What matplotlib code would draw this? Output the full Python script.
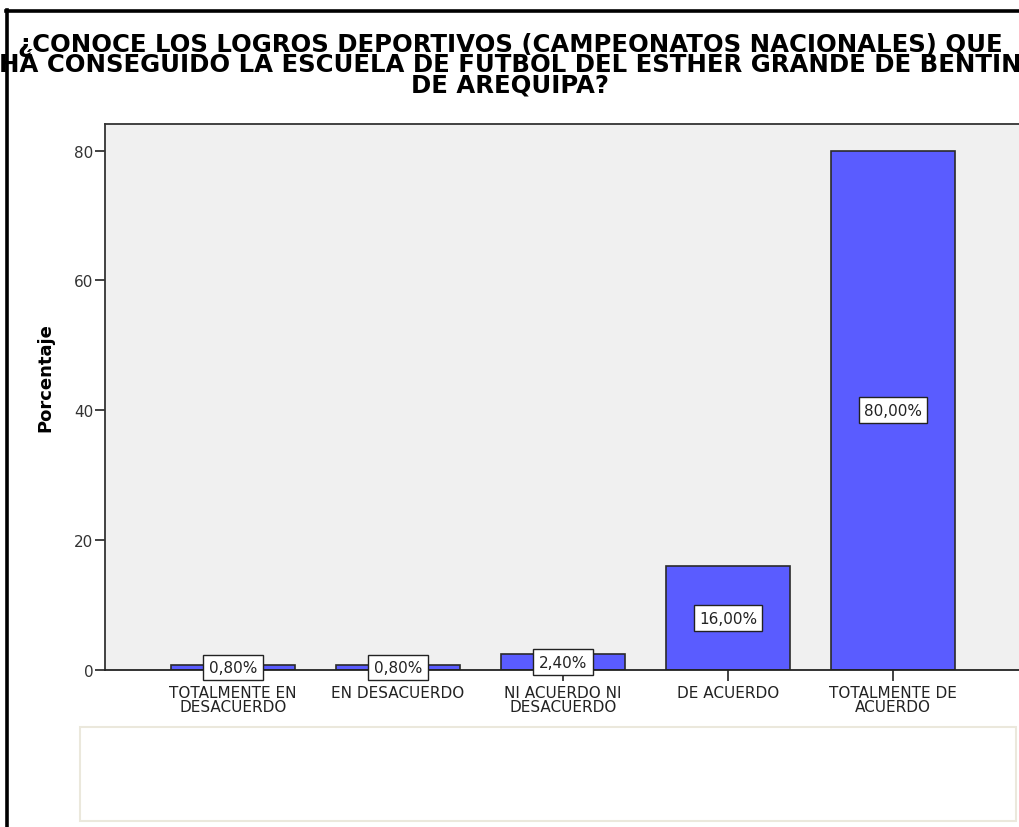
import matplotlib
matplotlib.use('Agg')
import matplotlib.pyplot as plt
from matplotlib.lines import Line2D
from matplotlib.patches import Rectangle

# chart data
categories = ['TOTALMENTE EN\nDESACUERDO', 'EN DESACUERDO', 'NI ACUERDO NI\nDESACUERDO',
              'DE ACUERDO', 'TOTALMENTE DE\nACUERDO']
percentages = [0.8, 0.8, 2.4, 16.0, 80.0]
bar_labels = ['0,80%', '0,80%', '2,40%', '16,00%', '80,00%']
y_ticks = [0, 20, 40, 60, 80]
title = ('¿CONOCE LOS LOGROS DEPORTIVOS (CAMPEONATOS NACIONALES) QUE\n'
         'HÁ CONSEGUIDO LA ESCUELA DE FÚTBOL DEL ESTHER GRANDE DE BENTÍN\n'
         'DE AREQUIPA?')

W, H = 1020, 828
fig = plt.figure(figsize=(W / 100, H / 100), dpi=100)
fig.patch.set_facecolor('white')

# outer black frame (left and top visible)
fig.add_artist(Line2D([7.5 / W, 7.5 / W], [0, 1 - 11 / H], color='black', lw=2.6))
fig.add_artist(Line2D([6 / W, 1], [1 - 11.5 / H, 1 - 11.5 / H], color='black', lw=2.6))

# empty footer box
fig.add_artist(Rectangle((80 / W, 1 - 822 / H), (1016 - 80) / W, (822 - 728) / H,
                         transform=fig.transFigure, facecolor='white',
                         edgecolor='#ebe8dc', lw=1.5))

fig.text(510 / W, 1 - 33 / H, title, ha='center', va='top', fontsize=17.6,
         fontweight='bold', family='DejaVu Sans', linespacing=0.8, color='black')

ax = fig.add_axes([105 / W, 1 - 671 / H, (1021 - 105) / W, (671 - 125) / H])
ax.set_facecolor('#f0f0f0')

x = list(range(len(categories)))
ax.bar(x, percentages, width=0.75, color='#5a5cff', edgecolor='#2a2a2a', linewidth=1.2, zorder=2)

for xi, v, lab in zip(x, percentages, bar_labels):
    ax.text(xi, v / 2, lab, ha='center', va='center', fontsize=11, color='#222222', zorder=5,
            bbox=dict(boxstyle='square,pad=0.35', facecolor='white', edgecolor='#222222', lw=1))

ax.set_xlim(-0.776, 4.776)
ax.set_ylim(0, 84.1)
ax.set_yticks(y_ticks)
ax.set_xticks(x)
ax.set_xticklabels(categories, fontsize=11, linespacing=0.95, color='#222222')
ax.tick_params(axis='y', length=7, width=1.3, color='#333333', labelsize=11,
               labelcolor='#333333', pad=1.5)
ax.tick_params(axis='x', length=8, width=1.3, color='#333333', pad=2.5)
for sp in ax.spines.values():
    sp.set_color('#333333')
    sp.set_linewidth(1.3)
ax.spines['bottom'].set_color('#222222')

fig.text(45 / W, 1 - 378 / H, 'Porcentaje', rotation=90, ha='center', va='center',
         fontsize=13, fontweight='bold', color='black')

fig.savefig('out.png', dpi=100)
